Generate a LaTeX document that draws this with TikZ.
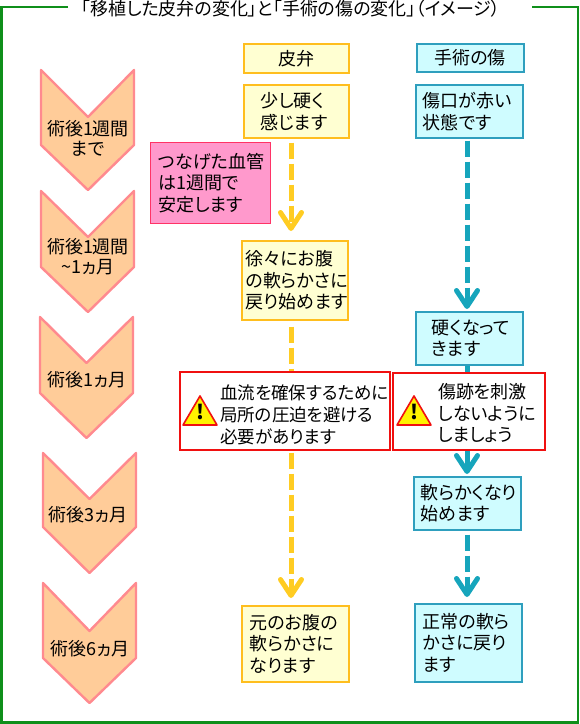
\documentclass[tikz,border=0pt]{standalone}
\usepackage{fontspec}
\setmainfont[RawFeature=+palt]{Noto Sans CJK JP}
\usetikzlibrary{arrows.meta}
\definecolor{FrameGreen}{HTML}{0F8F1A}
\definecolor{SkinLine}{HTML}{FFBE1E}
\definecolor{SkinFill}{HTML}{FFFFD2}
\definecolor{SkinArrow}{HTML}{FFCC22}
\definecolor{WoundLine}{HTML}{2E9FBE}
\definecolor{WoundFill}{HTML}{CFFCFF}
\definecolor{WoundArrow}{HTML}{16A5BC}
\definecolor{PeriodLine}{HTML}{FF8A8F}
\definecolor{PeriodFill}{HTML}{FFCC99}
\definecolor{NotePink}{HTML}{FF99CC}
\definecolor{NoteLine}{HTML}{FF3366}
\definecolor{AlertRed}{HTML}{F01010}
\tikzset{
  x=1pt,y=-1pt,
  body text/.style={align=left,font=\fontsize{18}{21.7}\selectfont,inner sep=0pt},
  skin box/.style={body text,draw=SkinLine,line width=1.5pt,fill=SkinFill,anchor=north west},
  wound box/.style={body text,draw=WoundLine,line width=1.5pt,fill=WoundFill,anchor=north west},
  note box/.style={body text,draw=NoteLine,line width=1pt,fill=NotePink,anchor=north west},
  alert box/.style={draw=AlertRed,line width=1.5pt,fill=white,anchor=north west,inner sep=0pt},
  period shape/.style={draw=PeriodLine,line width=2.4pt,fill=PeriodFill,line join=round},
  period text/.style={align=center,font=\fontsize{18}{20}\selectfont,inner sep=0pt},
  skin arrow/.style={draw=SkinArrow,line width=5pt,dash pattern=on 16pt off 5pt,
    -{Straight Barb[length=16pt,width=21pt,line width=5pt,round]}},
  wound arrow/.style={draw=WoundArrow,line width=5pt,dash pattern=on 16pt off 5pt,
    -{Straight Barb[length=16pt,width=21pt,line width=5pt,round]}},
  alert mark/.style={draw=AlertRed,line width=1.6pt,fill=yellow,line join=round},
  frame line/.style={draw=FrameGreen,line width=2.4pt}
}
\begin{document}
\begin{tikzpicture}
  \useasboundingbox (0,0) rectangle (580,724);
  % frame
  \coordinate (frameleft) at (68,7);
  \coordinate (frameright) at (532,7);
  \draw[frame line] (frameleft) -| (1.5,722.6) -| (578,7) -- (frameright);
  \node[font=\fontsize{18}{20}\selectfont,inner sep=0pt] (title) at (291,9)
    {「移植した皮弁の変化」と「手術の傷の変化」（イメージ）};
  % periods
  \draw[period shape] (41,70) -- (88,117) -- (134,70) -- (134,145) -- (88,190) -- (41,145) -- cycle;
  \draw[period shape] (41,191) -- (88,237) -- (134,191) -- (134,267) -- (88,312) -- (41,267) -- cycle;
  \draw[period shape] (40,317) -- (86.5,363) -- (133,317) -- (133,393) -- (86.5,438) -- (40,393) -- cycle;
  \draw[period shape] (43,453) -- (89.5,499) -- (136,453) -- (136,527) -- (89.5,573) -- (43,527) -- cycle;
  \draw[period shape] (43,583) -- (89.5,631) -- (136,583) -- (136,658) -- (89.5,703) -- (43,658) -- cycle;
  \node[period text] (week) at (88,138) {術後1週間\\まで};
  \node[period text] (month) at (88,257) {術後1週間\\\textasciitilde1ヵ月};
  \node[period text] (one) at (87,380) {術後1ヵ月};
  \node[period text] (three) at (88,515) {術後3ヵ月};
  \node[period text] (six) at (90,649) {術後6ヵ月};
  % columns
  \coordinate (skinx) at (291,0);
  \coordinate (woundx) at (467,0);
  \node[skin box,minimum width=105pt,minimum height=29pt,align=center] (skinhead) at (243,43) {皮弁};
  \node[wound box,minimum width=107pt,minimum height=28pt,align=center] (woundhead) at (416,43) {手術の傷};
  \node[skin box,text width=71pt,inner xsep=17pt,minimum height=53pt] (skina) at (243,84) {少し硬く\\感じます};
  \node[skin box,text width=98pt,inner xsep=4pt,minimum height=79pt] (skinb) at (241,240) {徐々にお腹\\の軟らかさに\\戻り始めます};
  \node[skin box,text width=91pt,inner xsep=8pt,minimum height=76pt] (skinc) at (241,605) {元のお腹の\\軟らかさに\\なります};
  \node[wound box,text width=93pt,inner xsep=7pt,minimum height=53pt] (wounda) at (415,84) {傷口が赤い\\状態です};
  \node[wound box,text width=75pt,inner xsep=16pt,minimum height=53pt] (woundb) at (415,311) {硬くなって\\きます};
  \node[wound box,text width=93pt,inner xsep=7pt,minimum height=53pt] (woundc) at (413,476) {軟らかくなり\\始めます};
  \node[wound box,text width=91pt,inner xsep=8pt,minimum height=78pt] (woundd) at (414,603) {正常の軟ら\\かさに戻り\\ます};
  % arrows
  \draw[skin arrow,shorten <=4pt,shorten >=9pt] (skina.south -| skinx) -- (skinb.north -| skinx);
  \draw[skin arrow,shorten <=6pt,shorten >=7pt] (skinb.south -| skinx) -- (skinc.north -| skinx);
  \draw[wound arrow,shorten <=2pt,shorten >=2pt] (wounda.south -| woundx) -- (woundb.north -| woundx);
  \draw[wound arrow,solid,shorten >=2pt] (woundb.south -| woundx) -- (woundc.north -| woundx);
  \draw[wound arrow,shorten <=4pt,shorten >=6pt] (woundc.south -| woundx) -- (woundd.north -| woundx);
  % notes
  \node[note box,text width=104pt,inner xsep=8pt,minimum height=81pt] (vessel) at (150,142) {つなげた血管\\は1週間で\\安定します};
  \node[alert box,minimum width=210pt,minimum height=78pt] (alertskin) at (179,371) {};
  \node[alert box,minimum width=152pt,minimum height=77pt] (alertwound) at (392,372) {};
  \node[body text,anchor=west,font=\fontsize{17.5}{21.7}\selectfont] (alertskintext) at (220,415) {血流を確保するために\\局所の圧迫を避ける\\必要があります};
  \node[body text,anchor=west] (alertwoundtext) at (438,413) {傷跡を刺激\\しないように\\しましょう};
  % warning marks
  \draw[alert mark] (200,396) -- (217,425) -- (183,425) -- cycle;
  \draw[alert mark] (414,396) -- (431,425) -- (397,425) -- cycle;
  \node[font=\fontsize{20}{20}\selectfont\bfseries,inner sep=0pt] (markskin) at (200,412) {!};
  \node[font=\fontsize{20}{20}\selectfont\bfseries,inner sep=0pt] (markwound) at (414,412) {!};
\end{tikzpicture}
\end{document}
